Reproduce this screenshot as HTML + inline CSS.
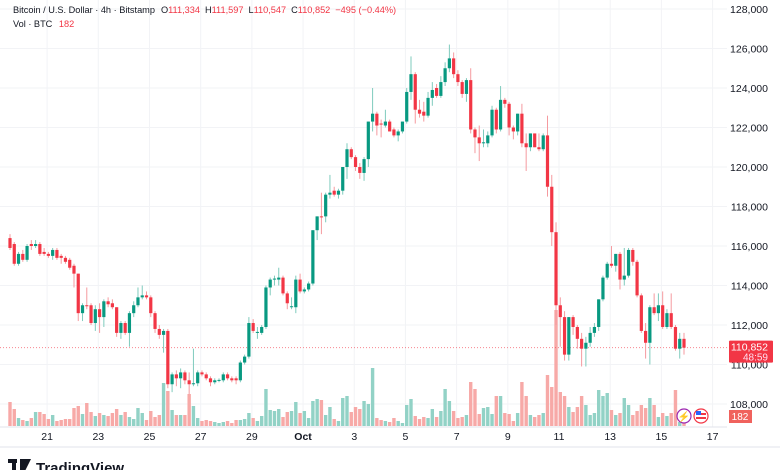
<!DOCTYPE html>
<html><head><meta charset="utf-8">
<style>
body{margin:0;background:#fff;width:780px;height:470px;overflow:hidden;font-family:"Liberation Sans",sans-serif;}
#wrap{position:relative;width:780px;height:470px;}
svg text{font-family:"Liberation Sans",sans-serif;}
</style></head><body>
<div id="wrap">
<svg id="chart" width="780" height="470"></svg>
</div>
<script>
const priceTicks=[108000,110000,112000,114000,116000,118000,120000,122000,124000,126000,128000];
const dateLabels=['21','23','25','27','29','Oct','3','5','7','9','11','13','15','17'];
const dateDayOffsets=[0,2,4,6,8,10,12,14,16,18,20,22,24,26];
const opens=[116.4,116.1,115.1,115.6,115.3,116.1,116.0,116.1,115.7,115.6,115.5,115.8,115.5,115.4,115.3,115.0,114.6,112.6,113.0,113.0,112.1,112.8,112.4,113.2,113.1,112.9,111.6,112.1,111.6,112.6,113.0,113.4,113.5,113.4,112.6,111.8,111.5,111.7,109.0,109.5,109.3,109.6,109.2,109.0,109.05,109.6,109.5,109.3,109.1,109.2,109.2,109.5,109.3,109.3,109.2,110.1,110.4,112.1,111.6,111.6,111.9,113.9,114.3,114.3,114.4,113.6,112.9,112.9,114.3,113.7,113.8,114.1,116.8,117.5,117.5,118.6,118.8,118.6,118.8,120.0,120.9,120.5,120.0,119.7,120.4,122.3,122.7,122.2,122.1,122.3,121.9,121.6,121.8,122.3,123.8,124.7,122.9,122.8,122.6,123.5,124.0,123.6,124.3,125.0,125.5,124.7,124.3,123.7,124.4,121.9,121.5,121.2,121.2,121.6,122.9,121.9,123.4,123.2,122.0,121.8,122.7,121.2,121.0,121.7,121.0,120.9,121.6,119.0,116.7,113.0,112.4,110.5,112.4,111.9,111.3,110.8,111.1,111.6,111.9,113.3,114.4,115.1,115.0,115.6,114.3,114.5,115.8,115.2,113.5,111.7,111.1,112.9,112.6,113.0,111.9,112.6,111.9,110.8,111.3];
const highs=[116.6,116.2,115.7,115.8,116.1,116.3,116.3,116.2,115.9,115.7,115.9,115.9,115.6,115.5,115.4,115.1,114.6,113.1,113.9,113.1,113.0,113.1,113.3,113.4,113.3,112.9,112.2,112.2,112.7,113.2,113.9,114.0,113.7,113.5,112.7,112.0,111.8,111.8,109.6,109.7,109.8,109.7,109.6,110.8,109.7,109.7,109.6,109.4,109.3,109.3,109.6,109.6,109.4,109.4,110.2,110.5,112.4,112.3,111.9,112.0,114.0,114.4,114.5,114.9,114.5,113.7,113.4,114.5,114.6,113.9,114.2,116.8,117.5,118.7,118.7,119.6,119.0,118.9,120.0,121.2,121.0,120.6,120.2,120.5,122.3,124.0,122.8,122.4,122.9,122.4,122.0,121.9,122.3,124.0,125.6,124.8,123.4,123.3,123.8,124.3,124.2,124.6,125.3,126.2,125.8,124.9,124.4,124.5,125.0,122.0,122.1,121.9,121.8,123.1,123.0,124.1,123.5,123.3,122.1,122.7,123.2,121.7,121.7,121.7,121.7,121.7,122.6,119.6,117.2,113.4,112.7,112.4,112.5,112.0,111.6,111.4,111.9,112.1,113.3,114.5,115.2,116.0,115.6,115.7,115.9,115.9,115.9,115.3,113.6,112.1,113.0,113.6,113.6,113.7,112.8,113.6,112.0,111.6,111.6];
const lows=[115.8,115.0,115.0,115.2,115.2,115.8,115.9,115.5,115.5,115.4,115.3,115.3,115.1,115.1,114.8,113.9,112.2,112.2,112.8,112.0,111.7,111.6,111.9,112.9,112.8,111.4,111.3,111.5,110.9,112.4,112.9,113.3,113.3,112.4,111.6,111.3,110.6,108.8,108.6,108.9,108.8,109.0,108.5,108.9,108.9,109.4,109.2,108.9,109.0,109.1,109.1,109.2,109.1,109.0,109.1,110.0,110.3,111.6,111.3,111.5,111.8,113.5,114.0,114.0,113.5,112.8,112.8,112.6,113.6,113.6,113.7,114.0,116.3,116.6,117.2,118.4,118.5,118.4,118.6,119.4,120.4,119.8,119.4,119.3,120.0,121.8,121.6,121.5,122.0,121.8,121.5,121.3,121.7,122.2,123.4,122.2,122.5,122.3,122.5,123.1,123.5,123.5,124.1,124.8,124.5,124.1,123.5,123.3,121.7,120.7,120.3,121.0,121.0,121.5,121.7,121.8,123.0,121.6,121.4,121.6,121.0,119.8,120.8,121.0,120.8,120.8,118.5,116.0,112.0,110.9,110.2,110.2,111.5,110.8,109.9,109.9,110.9,111.4,111.7,113.2,114.3,114.9,114.7,113.8,114.0,114.4,115.0,113.4,111.6,110.3,110.0,112.5,112.2,111.8,111.8,111.8,110.7,110.3,110.5];
const closes=[115.9,115.1,115.6,115.3,116.0,116.0,116.1,115.6,115.6,115.5,115.8,115.4,115.4,115.2,114.9,114.6,112.6,113.0,112.95,112.1,112.8,112.4,113.2,113.05,112.9,111.6,112.1,111.6,112.6,113.0,113.4,113.5,113.4,112.6,111.8,111.5,111.7,109.0,109.5,109.3,109.6,109.2,109.0,109.05,109.6,109.5,109.3,109.1,109.2,109.22,109.5,109.3,109.2,109.2,110.1,110.4,112.1,111.7,111.65,111.9,113.9,114.3,114.35,114.4,113.6,113.1,112.95,114.3,113.7,113.8,114.1,116.8,117.5,117.45,118.6,118.7,118.6,118.8,120.0,120.9,120.5,120.0,119.7,120.4,122.3,122.7,122.1,122.15,122.3,121.8,121.6,121.8,122.3,123.8,124.7,122.9,122.7,122.6,123.5,123.9,123.6,124.3,125.0,125.5,124.7,124.3,123.7,124.4,121.9,121.5,121.2,121.25,121.6,122.9,121.9,123.4,123.2,122.0,121.8,122.7,121.2,121.0,121.7,121.0,120.9,121.6,119.0,116.7,113.0,112.4,110.5,112.4,111.9,111.3,110.8,111.1,111.6,111.9,113.3,114.4,115.1,115.0,115.6,114.3,114.5,115.8,115.2,113.5,111.7,111.1,112.9,112.6,113.0,111.9,112.6,111.9,110.8,111.3,110.85];
const volumes=[24,17,8,6,5,8,14,14,12,7,11,5,6,7,7,18,20,12,23,14,10,13,11,10,13,17,11,14,9,7,18,13,6,15,9,11,43,35,16,11,11,11,32,20,8,5,6,5,4,3,4,5,3,6,6,7,13,8,5,10,37,16,15,17,9,14,15,24,13,15,8,25,27,26,11,19,7,5,28,30,14,19,17,25,22,58,8,6,5,4,8,5,3,21,27,10,7,9,8,17,9,15,37,25,15,8,9,11,44,37,12,18,19,12,30,30,13,12,5,13,44,30,11,9,11,13,51,39,116,34,30,19,14,19,30,21,11,13,36,30,33,16,11,13,28,21,11,15,21,18,28,21,9,13,10,13,36,4,3];
const lastPrice=110.852;

const NS='http://www.w3.org/2000/svg';
const svg=document.getElementById('chart');
function el(tag,attrs,parent){const e=document.createElementNS(NS,tag);for(const k in attrs)e.setAttribute(k,attrs[k]);(parent||svg).appendChild(e);return e;}
const n=closes.length;
const step=674/(n-1);
function xScale(i){return 10+i*step;}
function yScale(p){return 404-(p-108)*19.75;}
function vScale(v){return 426-v;}
function dayX(off){return xScale(8.7+off*6);}

const UP='#089981',DN='#f23645',UPV='#92d2c6',DNV='#f7a9a7';

const grid=el('g',{});


priceTicks.forEach(t=>{const y=yScale(t/1000);const l=el('line',{x1:0,x2:727,y1:y,y2:y,stroke:'#f2f3f6','stroke-width':1},grid);});
dateDayOffsets.forEach(o=>{const x=dayX(o);const l=el('line',{x1:x,x2:x,y1:0,y2:427,stroke:'#f2f3f6','stroke-width':1},grid);});

const vg=el('g',{});


volumes.forEach((v,i)=>{const up=closes[i]>=opens[i];const r=el('rect',{x:xScale(i)-1.7,y:vScale(v),width:3.4,height:v,fill:up?UPV:DNV},vg);});

const ly=yScale(lastPrice);
const lpl=el('line',{x1:0,x2:727,y1:ly,y2:ly,stroke:'#f23645','stroke-width':1,'stroke-dasharray':'1,2',opacity:0.6});



const cg=el('g',{});


closes.forEach((c,i)=>{const o=opens[i];const up=c>=o;const col=up?UP:DN;const x=xScale(i);
const w=el('line',{x1:x,x2:x,y1:yScale(highs[i]),y2:yScale(lows[i]),stroke:up?'#7fcbbd':'#f59a9f','stroke-width':1},cg);


const top=yScale(Math.max(o,c)),bot=yScale(Math.min(o,c));
const b=el('rect',{x:x-1.6,y:top,width:3.2,height:Math.max(1,bot-top),fill:col},cg);

});

const ax=el('line',{x1:0,x2:727,y1:427,y2:427,stroke:'#e0e3eb'});


const ax2=el('line',{x1:0,x2:780,y1:447,y2:447,stroke:'#e0e3eb'});


priceTicks.forEach(t=>{const tx=el('text',{x:768,y:yScale(t/1000)+4,'text-anchor':'end','font-size':10.5,fill:'#131722'});tx.textContent=t.toLocaleString('en-US');});
dateLabels.forEach((d,k)=>{const tx=el('text',{x:dayX(dateDayOffsets[k]),y:440,'text-anchor':'middle','font-size':10.5,fill:'#131722','font-weight':d==='Oct'?'bold':'normal'});tx.textContent=d;});

const lpg=el('g',{});


el('rect',{x:729,y:ly-7,width:44,height:22,fill:'#f23645',rx:1},lpg);
const t1=el('text',{x:768,y:ly+3,'text-anchor':'end','font-size':10.5,fill:'#fff'},lpg);t1.textContent=lastPrice.toFixed(3).replace('.',',');
const t2=el('text',{x:768,y:ly+13,'text-anchor':'end','font-size':10,fill:'#fde'},lpg);t2.textContent='48:59';
const vb=el('g',{});


el('rect',{x:729,y:410,width:23,height:13,fill:'#f0625d'},vb);
const t3=el('text',{x:740,y:420,'text-anchor':'middle','font-size':10,fill:'#fff'},vb);t3.textContent='182';

const ic1=el('g',{});


el('circle',{cx:684,cy:416,r:7,fill:'#fff',stroke:'#9c27b0','stroke-width':1.2},ic1);
const lt=el('text',{x:684,y:420,'text-anchor':'middle','font-size':10,fill:'#9c27b0'},ic1);lt.textContent='⚡';
const ic2=el('g',{});


el('circle',{cx:701,cy:416,r:7,fill:'#fff',stroke:'#f23645','stroke-width':1.2},ic2);
el('rect',{x:696,y:413,width:10,height:2,fill:'#f23645'},ic2);
el('rect',{x:696,y:417,width:10,height:2,fill:'#f23645'},ic2);
el('rect',{x:696,y:411,width:5,height:4,fill:'#2962ff'},ic2);

const h=el('text',{x:13,y:13,'font-size':9.2,fill:'#131722'});


h.innerHTML='Bitcoin / U.S. Dollar · 4h · Bitstamp<tspan dx="6">O</tspan><tspan fill="#f23645">111,334</tspan><tspan dx="5">H</tspan><tspan fill="#f23645">111,597</tspan><tspan dx="5">L</tspan><tspan fill="#f23645">110,547</tspan><tspan dx="5">C</tspan><tspan fill="#f23645">110,852</tspan><tspan dx="5" fill="#f23645">−495 (−0.44%)</tspan>';
const h2=el('text',{x:13,y:27,'font-size':9.2,fill:'#131722'});


h2.innerHTML='Vol · BTC <tspan dx="4" fill="#f23645">182</tspan>';

const lg=el('g',{});


el('rect',{x:8,y:459,width:9,height:4,fill:'#131722'},lg);
el('rect',{x:12,y:459,width:4,height:12,fill:'#131722'},lg);
el('polygon',{points:'20,459 31,459 25,471 20,471',fill:'#131722'},lg);
const lt2=el('text',{x:36,y:473,'font-size':15,'font-weight':'bold',fill:'#131722'},lg);lt2.textContent='TradingView';
</script>
</body></html>
